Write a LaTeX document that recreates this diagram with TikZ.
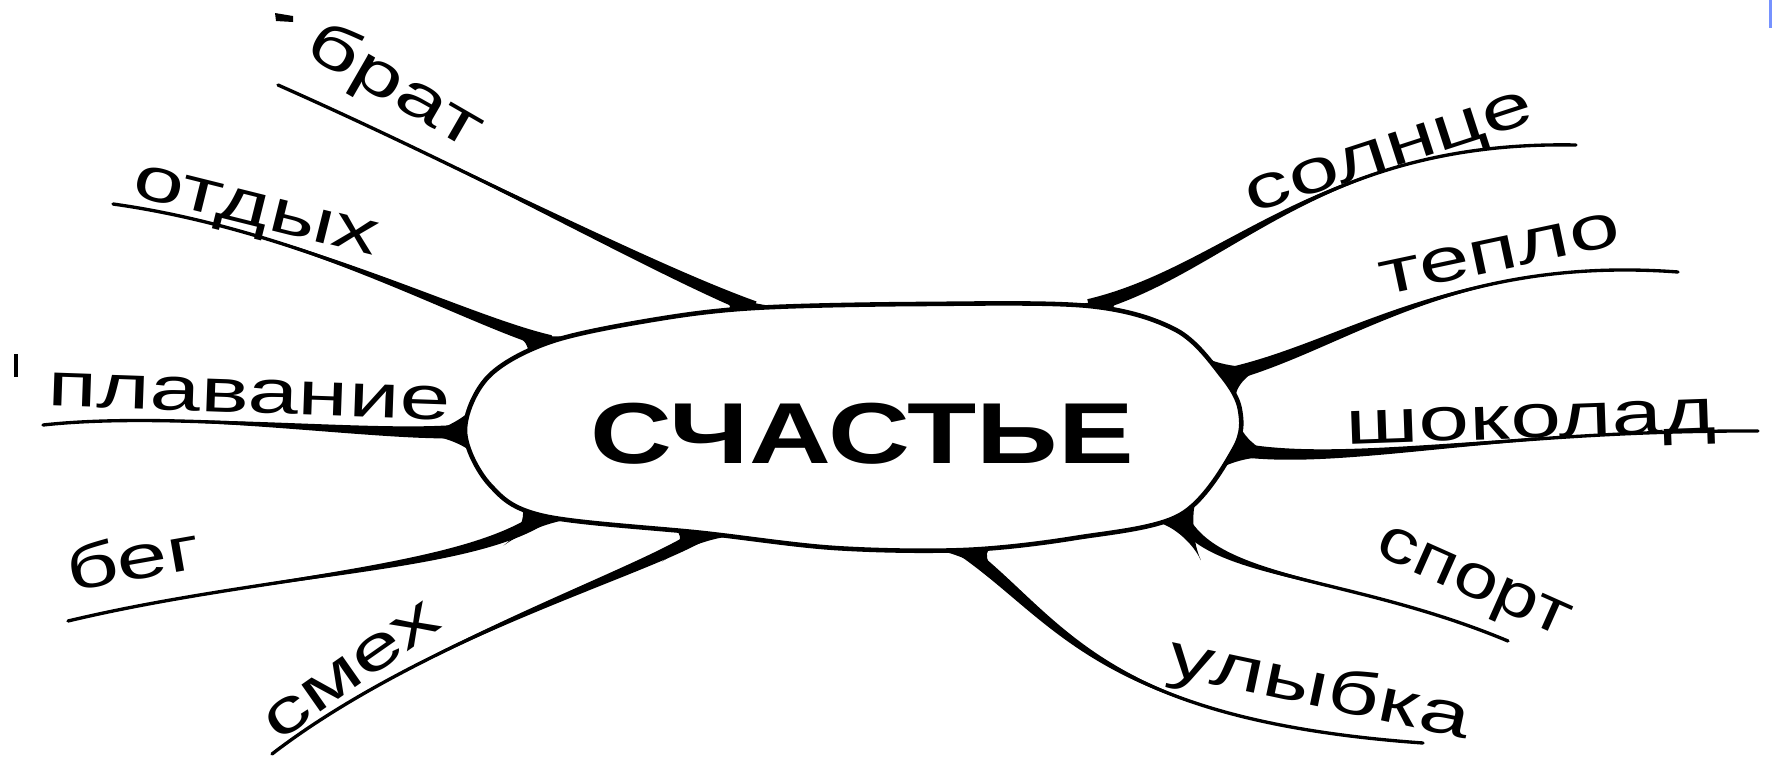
\documentclass[tikz,border=0pt]{standalone}
\usepackage{fontspec}
\setmainfont{Liberation Sans}
\usetikzlibrary{calc}
\definecolor{edgeblue}{RGB}{118,146,255}
\newcommand\lbltxt[2][1.47]{\scalebox{#1}[1]{#2}}
% #1 junction, #2 #3 controls, #4 free end, #5 #6 neighbours on the outline
\newcommand\brnch[6]{%
  \fill ($(#1)!0.07cm!90:(#2)$) .. controls ($(#2)!0.045cm!-90:(#1)$) and (#3) .. (#4)
     .. controls (#3) and ($(#2)!0.045cm!90:(#1)$) .. ($(#1)!0.07cm!-90:(#2)$) -- cycle;
  \draw[branch] (#1) .. controls (#2) and (#3) .. (#4);
  \coordinate (fa) at ($(#1)!0.32cm!(#5)$);
  \coordinate (fb) at ($(#1)!0.32cm!(#6)$);
  \coordinate (fq) at ($(#1)!0.5cm!(#2)$);
  \fill (fa) .. controls ($(fa)!0.45!(#1)$) and ($(fq)!0.5!(#1)$) .. (fq)
     .. controls ($(fq)!0.5!(#1)$) and ($(fb)!0.45!(#1)$) .. (fb) -- (#1) -- cycle;
}
\begin{document}
\begin{tikzpicture}[x=0.01cm,y=-0.01cm,
  branch/.style={line width=0.95pt, line cap=round},
  lbl/.style={font=\fontsize{17.6}{20}\selectfont, inner sep=0pt, text height=9.1pt, text depth=0pt},
  hub/.style={font=\fontsize{24.6}{28}\selectfont\bfseries, inner sep=0pt}]
\useasboundingbox (0,0) rectangle (1778,757);
% junctions on the central shape
\coordinate (jO) at (550,342);
\coordinate (jB) at (754,308);
\coordinate (jS) at (1089,306);
\coordinate (jT) at (1222,376);
\coordinate (jSh) at (1234,449);
\coordinate (jSp) at (1180,515);
\coordinate (jU) at (964,550);
\coordinate (jSm) at (703,533);
\coordinate (jBe) at (544,516);
\coordinate (jP) at (465,431);
% other outline points
\coordinate (o1) at (652,320);
\coordinate (o2) at (920,304);
\coordinate (o3) at (1176,330);
\coordinate (o4) at (1240,410);
\coordinate (o5) at (1075,538);
\coordinate (o6) at (835,548);
\coordinate (o7) at (490,485);
\coordinate (o8) at (488,377);
% free ends
\coordinate (eB) at (278,85);
\coordinate (eO) at (113,204);
\coordinate (eP) at (43,425);
\coordinate (eBe) at (68,621);
\coordinate (eSm) at (272,754);
\coordinate (eU) at (1423,743);
\coordinate (eSp) at (1508,641);
\coordinate (eSh) at (1758,431);
\coordinate (eT) at (1678,272);
\coordinate (eS) at (1576,145);
% branches
\brnch{jB}{650,268}{470,170}{eB}{o1}{o2}
\brnch{jO}{465,320}{300,230}{eO}{o8}{o1}
\brnch{jP}{380,438}{180,410}{eP}{o7}{o8}
\brnch{jBe}{470,570}{260,575}{eBe}{jSm}{o7}
\brnch{jSm}{650,570}{420,640}{eSm}{o6}{jBe}
\brnch{jU}{1060,620}{1100,720}{eU}{o5}{o6}
\brnch{jSp}{1210,580}{1350,575}{eSp}{jSh}{o5}
\brnch{jSh}{1340,468}{1500,430}{eSh}{o4}{jSp}
\brnch{jT}{1340,350}{1450,255}{eT}{o3}{o4}
\brnch{jS}{1230,270}{1320,140}{eS}{o2}{o3}
% central shape
\filldraw[fill=white, line width=1.3pt] plot[smooth cycle, tension=0.55] coordinates
  {(jO) (o1) (jB) (o2) (jS) (o3) (jT) (o4) (jSh) (jSp) (o5)
   (jU) (o6) (jSm) (jBe) (o7) (jP) (o8)};
\node[hub] (hub) at (862,434) {\scalebox{1.31}[1]{СЧАСТЬЕ}};
% labels
\node[lbl, rotate=-30] (brat) at (394,88) {\lbltxt{брат}};
\node[lbl, rotate=-14] (otdyh) at (256,210) {\lbltxt{отдых}};
\node[lbl, rotate=-2] (plav) at (249,397) {\lbltxt{плавание}};
\node[lbl, rotate=10] (beg) at (134,564) {\lbltxt{бег}};
\node[lbl, rotate=35] (smeh) at (352,671) {\lbltxt{смех}};
\node[lbl, rotate=-12] (ulyb) at (1319,691) {\lbltxt{улыбка}};
\node[lbl, rotate=-24] (sport) at (1474,581) {\lbltxt[1.28]{спорт}};
\node[lbl, rotate=2] (shok) at (1531,422) {\lbltxt{шоколад}};
\node[lbl, rotate=12] (teplo) at (1500,254) {\lbltxt{тепло}};
\node[lbl, rotate=18] (solnce) at (1389,152) {\lbltxt{солнце}};
% stray marks at the edges
\fill (275,13) -- (293,16) -- (293,22) -- (276,21) -- cycle;
\draw[line width=0.04cm] (16,354) -- (16,377);
\fill[edgeblue] (1769,0) rectangle (1772,28);
\end{tikzpicture}
\end{document}
